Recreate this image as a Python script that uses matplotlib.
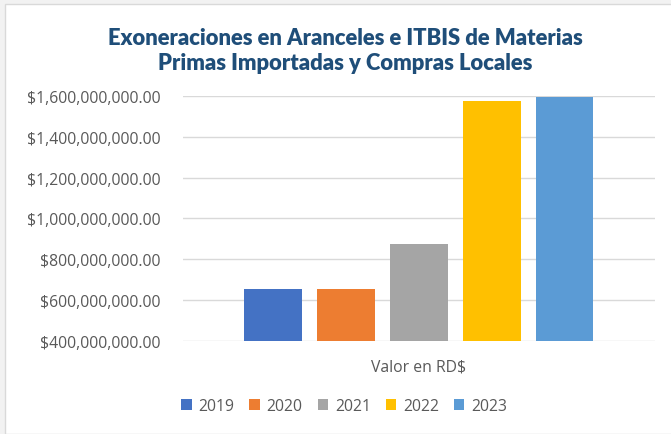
import matplotlib.pyplot as plt
from matplotlib.patches import Rectangle
from matplotlib.ticker import FuncFormatter

# datos del gráfico
years = ['2019', '2020', '2021', '2022', '2023']
values = [653_000_000, 655_000_000, 874_000_000, 1_576_000_000, 1_596_000_000]
colors = ['#4472C4', '#ED7D31', '#A5A5A5', '#FFC000', '#5B9BD5']
y_ticks = [400_000_000, 600_000_000, 800_000_000, 1_000_000_000,
           1_200_000_000, 1_400_000_000, 1_600_000_000]
title = 'Exoneraciones en Aranceles e ITBIS de Materias\nPrimas Importadas y Compras Locales'
x_label = 'Valor en RD$'

plt.rcParams['font.family'] = ['Open Sans', 'DejaVu Sans']

fig = plt.figure(figsize=(6.71, 4.35), dpi=100)
fig.patch.set_facecolor('#F2F2F2')
# fondo blanco del área del gráfico con borde gris
fig.patches.append(Rectangle((5 / 671, 0), 1, 1 - 5 / 435, transform=fig.transFigure,
                             facecolor='white', edgecolor='#D9D9D9', linewidth=1, zorder=-10))

ax = fig.add_axes([0.2723, 0.2145, 0.7037, 0.5625])
ax.set_facecolor('none')

width = 0.1226
step = 0.1543
for i, (yr, v, c) in enumerate(zip(years, values, colors)):
    ax.bar((i - 2) * step, v, width=width, color=c, label=yr, zorder=3)

ax.set_xlim(-0.5, 0.5)
ax.set_ylim(y_ticks[0], y_ticks[-1])
ax.set_yticks(y_ticks)
ax.yaxis.set_major_formatter(FuncFormatter(lambda v, p: f'${v:,.2f}'))
ax.set_xticks([])
ax.grid(axis='y', color='#D9D9D9', linewidth=1, zorder=0)
ax.tick_params(axis='y', length=0, pad=16, labelsize=11.3, labelcolor='#595959')
for s in ax.spines.values():
    s.set_visible(False)

ax.set_xlabel(x_label, fontsize=11.3, color='#595959', labelpad=13)

fig.text(0.515, 0.882, title, ha='center', va='center', fontsize=15.8,
         fontweight='heavy', family=['Lato', 'DejaVu Sans'], color='#1F4E79',
         linespacing=1.25)

fig.legend(loc='center', bbox_to_anchor=(0.513, 0.064), ncol=5, frameon=False,
           fontsize=11.3, labelcolor='#595959', handlelength=0.65, handleheight=0.65,
           columnspacing=0.95, handletextpad=0.45)

fig.savefig('out.png', dpi=100)
